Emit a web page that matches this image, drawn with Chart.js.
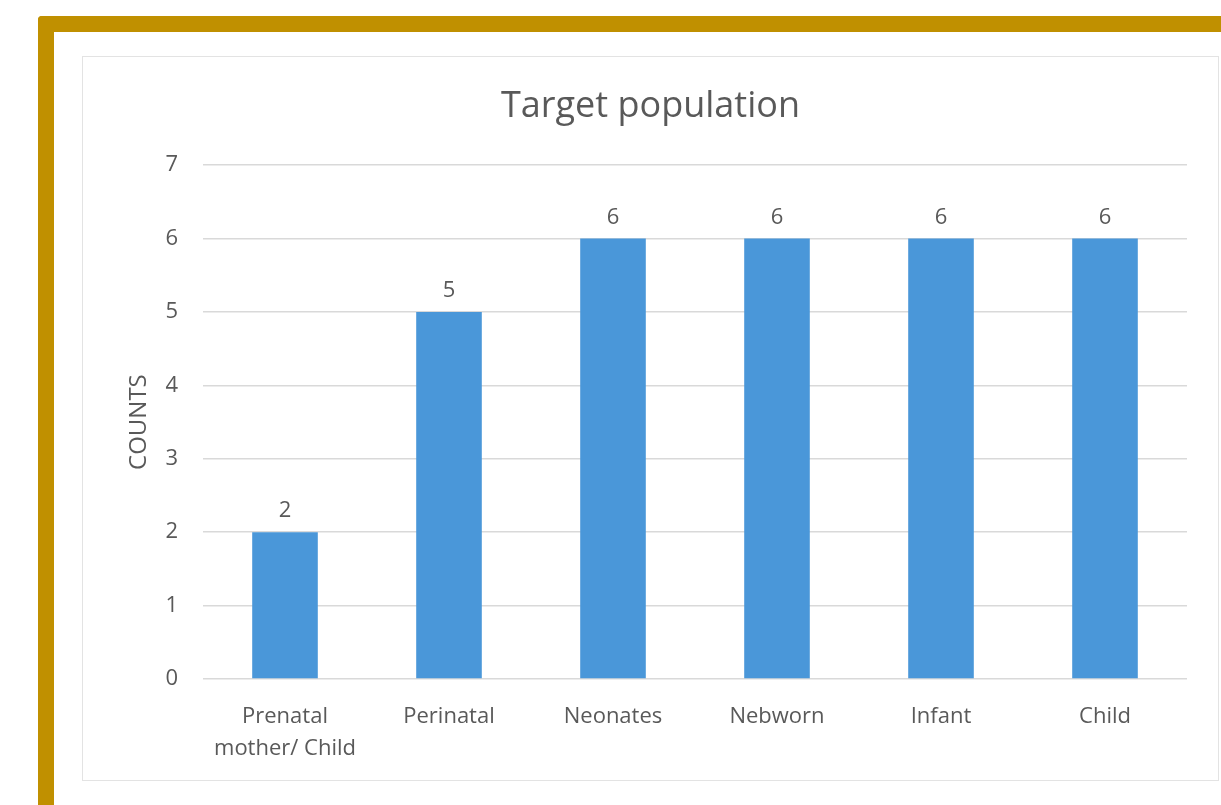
<!DOCTYPE html>
<html lang="en">
<head>
    <meta charset="UTF-8">
    <title>Target population</title>
    <script src="https://cdn.jsdelivr.net/npm/chart.js"></script>
    <style>
        html, body { margin: 0; padding: 0; background: #fff; overflow: hidden; }
        body { width: 1221px; height: 805px; position: relative; }
        .frame {
            position: absolute; left: 38px; top: 16px; right: -40px; bottom: -40px;
            border-left: 16px solid #c09000; border-top: 16px solid #c09000;
            border-top-left-radius: 4px;
        }
        .box {
            position: absolute; left: 82px; top: 56px; width: 1135px; height: 723px;
            border: 1px solid #e3e3e3;
        }
    </style>
</head>
<body>
    <div class="frame"></div>
    <div class="box"><canvas id="popChart"></canvas></div>

    <script>
        const categories = [['Prenatal', 'mother/ Child'], 'Perinatal', 'Neonates', 'Nebworn', 'Infant', 'Child'];
        const counts = [2, 5, 6, 6, 6, 6];
        const yMax = 7;

        const textColor = '#595959';
        const fontFamily = "'Open Sans', sans-serif";

        // draws the value above each bar, Excel style
        const barLabels = {
            id: 'barLabels',
            afterDatasetsDraw(chart) {
                const ctx = chart.ctx;
                const meta = chart.getDatasetMeta(0);
                ctx.save();
                ctx.font = '22px ' + fontFamily;
                ctx.fillStyle = textColor;
                ctx.textAlign = 'center';
                ctx.textBaseline = 'middle';
                meta.data.forEach((bar, i) => {
                    ctx.fillText(String(counts[i]), bar.x, bar.y - 21);
                });
                ctx.restore();
            }
        };

        const ctx = document.getElementById('popChart').getContext('2d');
        new Chart(ctx, {
            type: 'bar',
            data: {
                labels: categories,
                datasets: [{
                    data: counts,
                    backgroundColor: '#4a97d9',
                    barPercentage: 0.4,
                    categoryPercentage: 1.0,
                }]
            },
            options: {
                responsive: true,
                maintainAspectRatio: false,
                animation: false,
                layout: { padding: 0 },
                plugins: {
                    legend: { display: false },
                    tooltip: { enabled: false },
                    title: {
                        display: true,
                        text: 'Target population',
                        color: textColor,
                        font: { family: fontFamily, size: 36, weight: 'normal' },
                        padding: { top: 28, bottom: 37 }
                    }
                },
                scales: {
                    x: {
                        grid: { display: false },
                        border: { display: false },
                        ticks: {
                            color: textColor,
                            font: { family: fontFamily, size: 22, lineHeight: 1.45 },
                            padding: 14,
                            maxRotation: 0,
                        },
                        afterFit(scale) { scale.height = 101; }
                    },
                    y: {
                        min: 0,
                        max: yMax,
                        grid: { color: '#d9d9d9', drawTicks: false, lineWidth: 1.5 },
                        border: { display: false },
                        ticks: {
                            stepSize: 1,
                            color: textColor,
                            font: { family: fontFamily, size: 22 },
                            padding: 25,
                        },
                        title: {
                            display: true,
                            text: 'COUNTS',
                            color: textColor,
                            font: { family: fontFamily, size: 24, weight: 'normal' },
                            padding: { top: 42, bottom: 0 }
                        },
                        afterFit(scale) { scale.width = 120; }
                    },
                    // empty right-hand axis that only keeps the right margin
                    yRight: {
                        position: 'right',
                        grid: { display: false },
                        border: { display: false },
                        ticks: { display: false },
                        afterFit(scale) { scale.width = 31; }
                    }
                }
            },
            plugins: [barLabels]
        });
    </script>
</body>
</html>
